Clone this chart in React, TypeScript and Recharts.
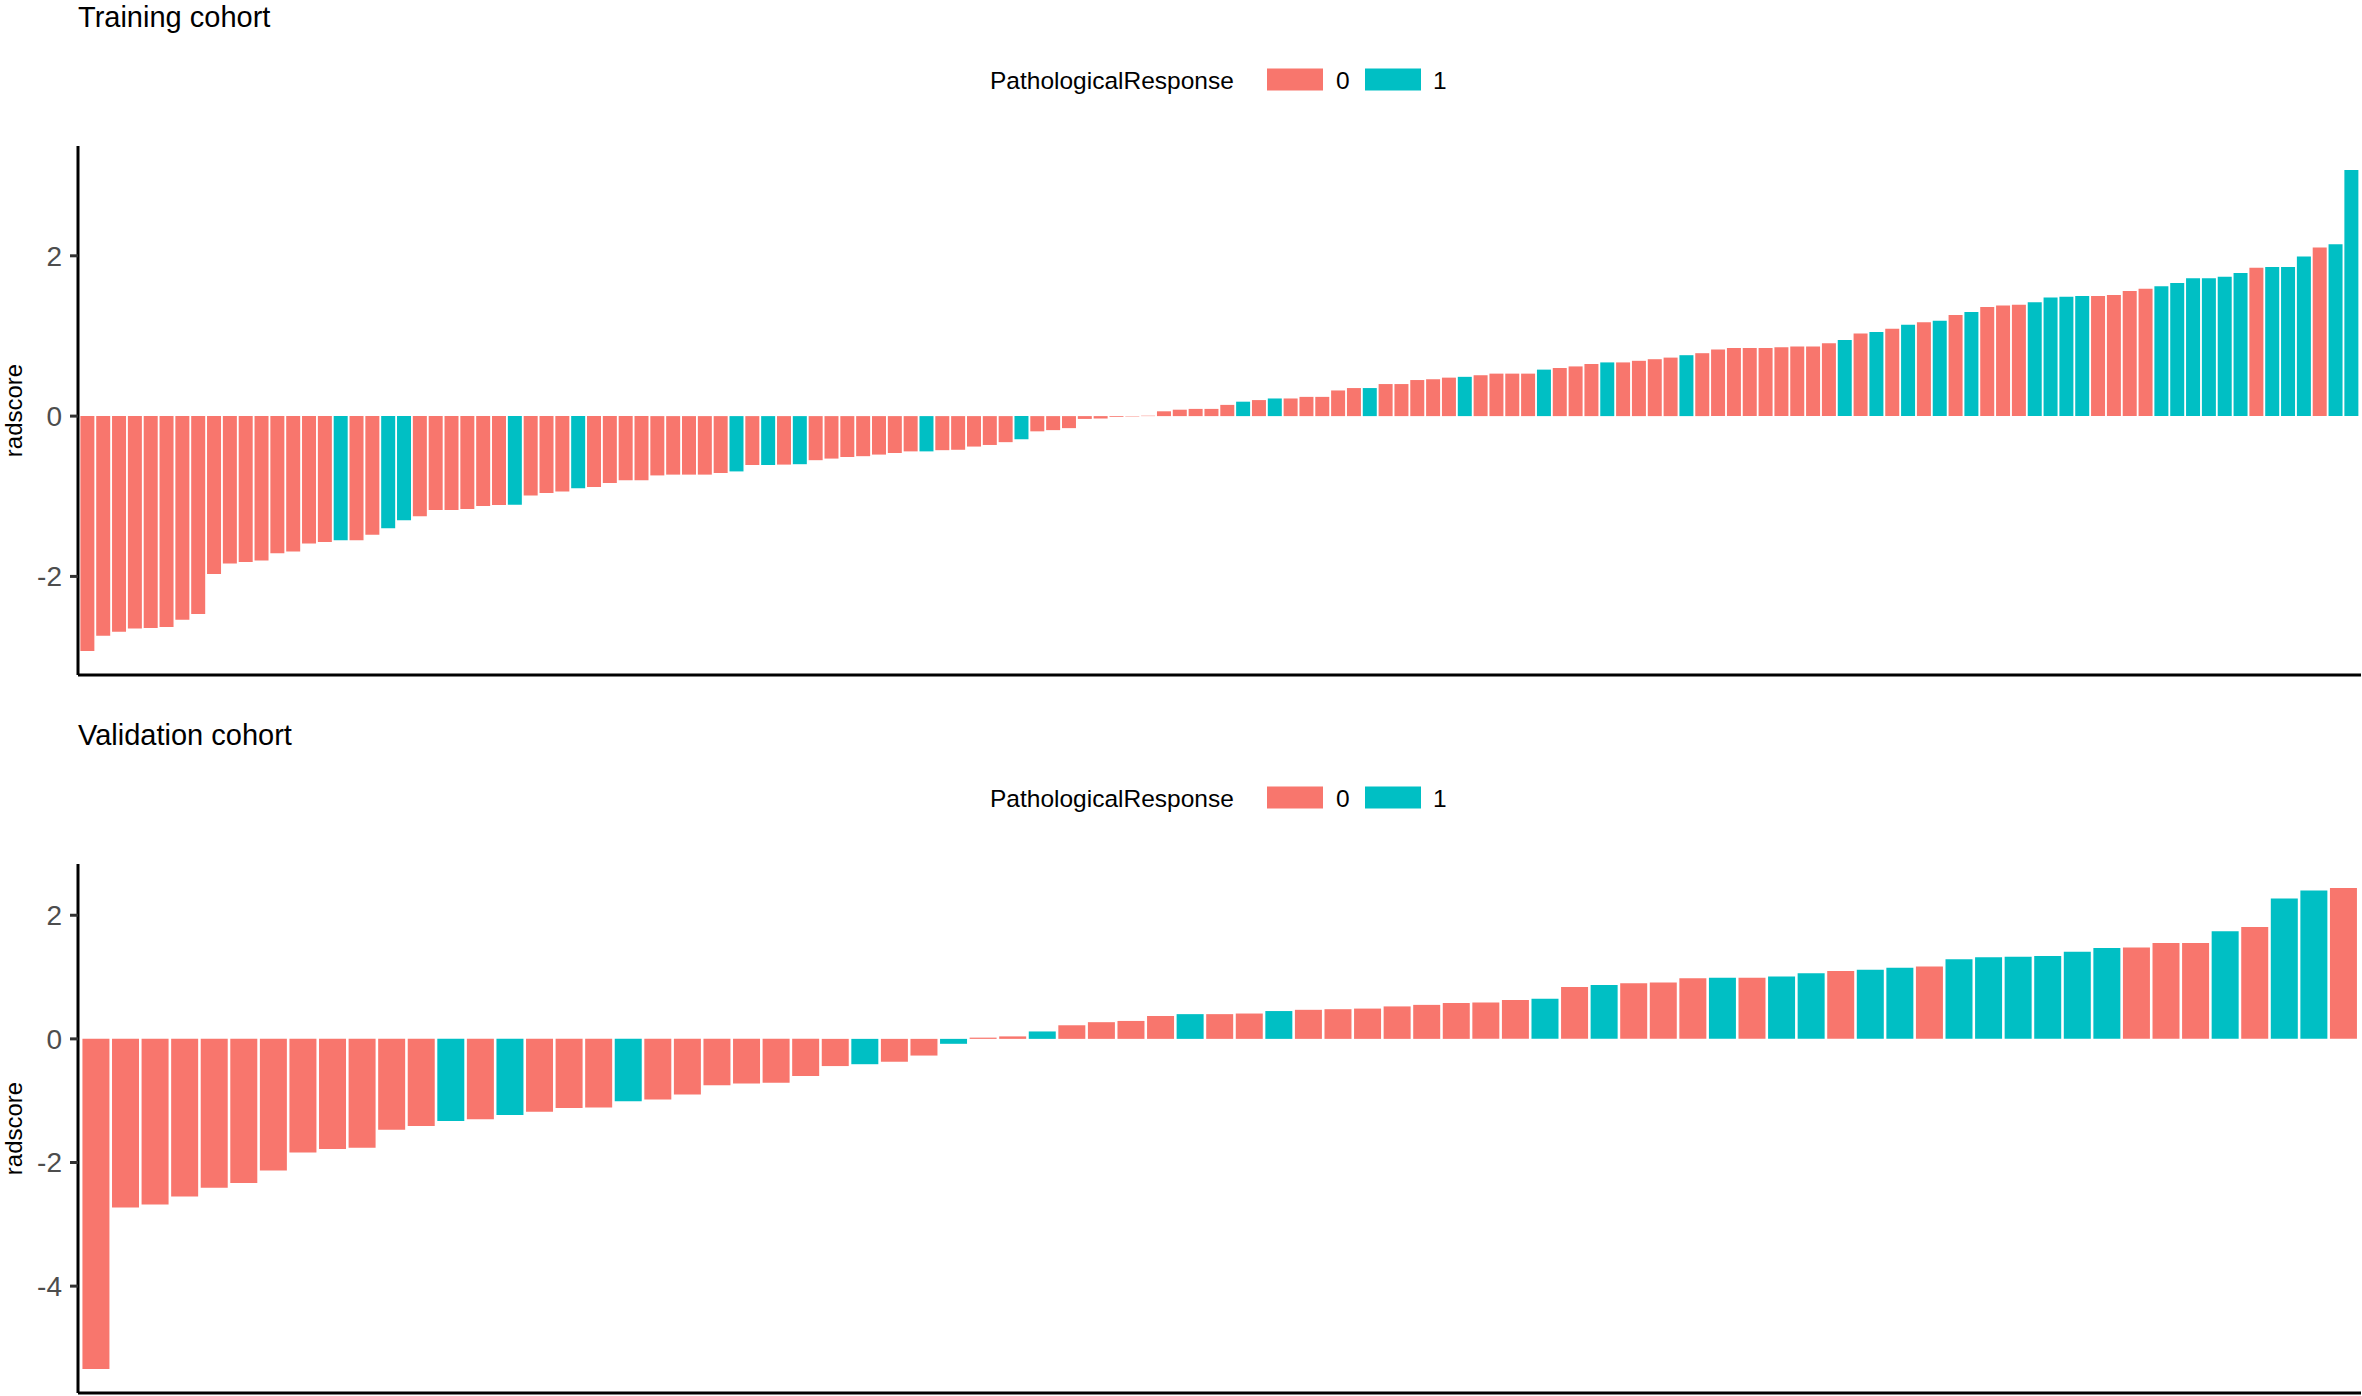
import React from 'react';
import { BarChart, Bar, XAxis, YAxis, Cell } from 'recharts';

// radscore per patient, already sorted ascending
const trainingScores = [
  -2.93, -2.74, -2.69, -2.65, -2.645, -2.63, -2.54, -2.47, -1.97, -1.84, -1.82, -1.8,
  -1.71, -1.69, -1.59, -1.57, -1.55, -1.55, -1.48, -1.4, -1.3, -1.25, -1.17, -1.17,
  -1.16, -1.12, -1.11, -1.105, -0.99, -0.96, -0.94, -0.9, -0.886, -0.833, -0.8, -0.8,
  -0.74, -0.73, -0.73, -0.73, -0.71, -0.69, -0.61, -0.61, -0.605, -0.6, -0.55, -0.53,
  -0.51, -0.5, -0.48, -0.46, -0.44, -0.44, -0.425, -0.42, -0.38, -0.36, -0.325, -0.29,
  -0.19, -0.175, -0.15, -0.035, -0.03, -0.01, -0.005, 0.005, 0.06, 0.08, 0.09, 0.09,
  0.14, 0.18, 0.2, 0.22, 0.22, 0.24, 0.24, 0.32, 0.35, 0.35, 0.4, 0.4,
  0.45, 0.46, 0.48, 0.49, 0.51, 0.53, 0.53, 0.53, 0.58, 0.6, 0.62, 0.65,
  0.67, 0.67, 0.69, 0.71, 0.73, 0.76, 0.785, 0.83, 0.85, 0.85, 0.85, 0.86,
  0.87, 0.87, 0.91, 0.95, 1.03, 1.05, 1.09, 1.14, 1.17, 1.19, 1.26, 1.3,
  1.36, 1.38, 1.39, 1.42, 1.48, 1.49, 1.5, 1.5, 1.51, 1.56, 1.59, 1.62,
  1.66, 1.72, 1.72, 1.74, 1.785, 1.85, 1.86, 1.86, 1.99, 2.105, 2.145, 3.07,
];

const trainingResponse = [
  0, 0, 0, 0, 0, 0, 0, 0, 0, 0, 0, 0,
  0, 0, 0, 0, 1, 0, 0, 1, 1, 0, 0, 0,
  0, 0, 0, 1, 0, 0, 0, 1, 0, 0, 0, 0,
  0, 0, 0, 0, 0, 1, 0, 1, 0, 1, 0, 0,
  0, 0, 0, 0, 0, 1, 0, 0, 0, 0, 0, 1,
  0, 0, 0, 0, 0, 0, 0, 0, 0, 0, 0, 0,
  0, 1, 0, 1, 0, 0, 0, 0, 0, 1, 0, 0,
  0, 0, 0, 1, 0, 0, 0, 0, 1, 0, 0, 0,
  1, 0, 0, 0, 0, 1, 0, 0, 0, 0, 0, 0,
  0, 0, 0, 1, 0, 1, 0, 1, 0, 1, 0, 1,
  0, 0, 0, 1, 1, 1, 1, 0, 0, 0, 0, 1,
  1, 1, 1, 1, 1, 0, 1, 1, 1, 0, 1, 1,
];

const validationScores = [
  -5.34, -2.73, -2.68, -2.55, -2.41, -2.33, -2.13, -1.84, -1.78, -1.76, -1.47,
  -1.41, -1.33, -1.3, -1.23, -1.18, -1.12, -1.11, -1.01, -0.98, -0.9, -0.75,
  -0.72, -0.71, -0.6, -0.44, -0.41, -0.37, -0.27, -0.08, 0.02, 0.04, 0.12,
  0.22, 0.27, 0.29, 0.37, 0.4, 0.4, 0.41, 0.45, 0.47, 0.48, 0.49,
  0.525, 0.55, 0.58, 0.59, 0.63, 0.65, 0.84, 0.87, 0.9, 0.91, 0.98,
  0.99, 0.99, 1.01, 1.06, 1.1, 1.12, 1.15, 1.17, 1.29, 1.32, 1.33,
  1.34, 1.41, 1.47, 1.48, 1.55, 1.55, 1.74, 1.81, 2.27, 2.4, 2.44,
];

const validationResponse = [
  0, 0, 0, 0, 0, 0, 0, 0, 0, 0, 0,
  0, 1, 0, 1, 0, 0, 0, 1, 0, 0, 0,
  0, 0, 0, 0, 1, 0, 0, 1, 0, 0, 1,
  0, 0, 0, 0, 1, 0, 0, 1, 0, 0, 0,
  0, 0, 0, 0, 0, 1, 0, 1, 0, 0, 0,
  1, 0, 1, 1, 0, 1, 1, 0, 1, 1, 1,
  1, 1, 1, 0, 0, 0, 1, 0, 1, 1, 0,
];

const responseLevels = ['0', '1'];
const trainingTicks = [-2, 0, 2];
const validationTicks = [-4, -2, 0, 2];

const FILLS = ['#F8766D', '#00BFC4'];
const FONT = '"Liberation Sans", Arial, Helvetica, sans-serif';
const WIDTH = 2362;
const PANEL_H = 677;
const PLOT_LEFT = 78;
const PLOT_TOP = 146;
const PLOT_BOTTOM = 675;
const X_AXIS_H = 1;

// ggplot-style 5% expansion of the continuous axis
const expand = (values: number[]): [number, number] => {
  const lo = Math.min(...values);
  const hi = Math.max(...values);
  const pad = (hi - lo) * 0.05;
  return [lo - pad, hi + pad];
};

const CohortPanel = ({ title, scores, response, ticks, top }) => {
  const rows = scores.map((v, i) => ({ id: i + 1, radscore: v, response: response[i] }));
  const plotW = WIDTH - PLOT_LEFT - 1;
  // discrete axis expansion of 0.6 units on each side, bar width 0.9
  const unit = plotW / (scores.length + 0.2);
  const midY = (PLOT_TOP + PLOT_BOTTOM) / 2;

  return (
    <div style={{ position: 'absolute', left: 0, top, width: WIDTH, height: PANEL_H }}>
      <BarChart
        width={WIDTH}
        height={PANEL_H}
        data={rows}
        margin={{ top: PLOT_TOP, right: 1, bottom: PANEL_H - PLOT_BOTTOM - X_AXIS_H, left: 0 }}
        barCategoryGap="5%"
      >
        <XAxis
          dataKey="id"
          type="category"
          height={X_AXIS_H}
          tick={false}
          tickLine={false}
          axisLine={{ stroke: '#000000', strokeWidth: 3 }}
          padding={{ left: unit * 0.1, right: unit * 0.1 }}
        />
        <YAxis
          type="number"
          width={PLOT_LEFT}
          domain={expand(scores)}
          allowDataOverflow
          ticks={ticks}
          interval={0}
          tickSize={8}
          tickMargin={8}
          tick={{ fill: '#4D4D4D', fontSize: 28, fontFamily: FONT }}
          tickLine={{ stroke: '#333333', strokeWidth: 3 }}
          axisLine={{ stroke: '#000000', strokeWidth: 3 }}
        />
        <Bar dataKey="radscore" isAnimationActive={false}>
          {rows.map((r) => (
            <Cell key={r.id} fill={FILLS[r.response]} />
          ))}
        </Bar>
      </BarChart>

      <svg
        width={WIDTH}
        height={PANEL_H}
        style={{ position: 'absolute', left: 0, top: 0, pointerEvents: 'none' }}
        fontFamily={FONT}
      >
        <text x={78} y={27} fontSize={29} fill="#000">{title}</text>

        <text x={990} y={89} fontSize={24.5} fill="#000">PathologicalResponse</text>
        {responseLevels.map((lvl, i) => (
          <g key={lvl}>
            <rect x={1267 + i * 98} y={68.5} width={56} height={22} fill={FILLS[i]} />
            <text x={1336 + i * 97} y={89} fontSize={24.5} fill="#000">{lvl}</text>
          </g>
        ))}

        <text
          x={22}
          y={midY}
          fontSize={24}
          fill="#000"
          textAnchor="middle"
          transform={`rotate(-90, 22, ${midY})`}
        >
          radscore
        </text>
      </svg>
    </div>
  );
};

export default function App() {
  return (
    <div
      style={{
        position: 'absolute',
        left: 0,
        top: 0,
        width: WIDTH,
        height: 1396,
        background: '#fff',
        overflow: 'hidden',
      }}
    >
      <CohortPanel
        title="Training cohort"
        scores={trainingScores}
        response={trainingResponse}
        ticks={trainingTicks}
        top={0}
      />
      <CohortPanel
        title="Validation cohort"
        scores={validationScores}
        response={validationResponse}
        ticks={validationTicks}
        top={718}
      />
    </div>
  );
}
